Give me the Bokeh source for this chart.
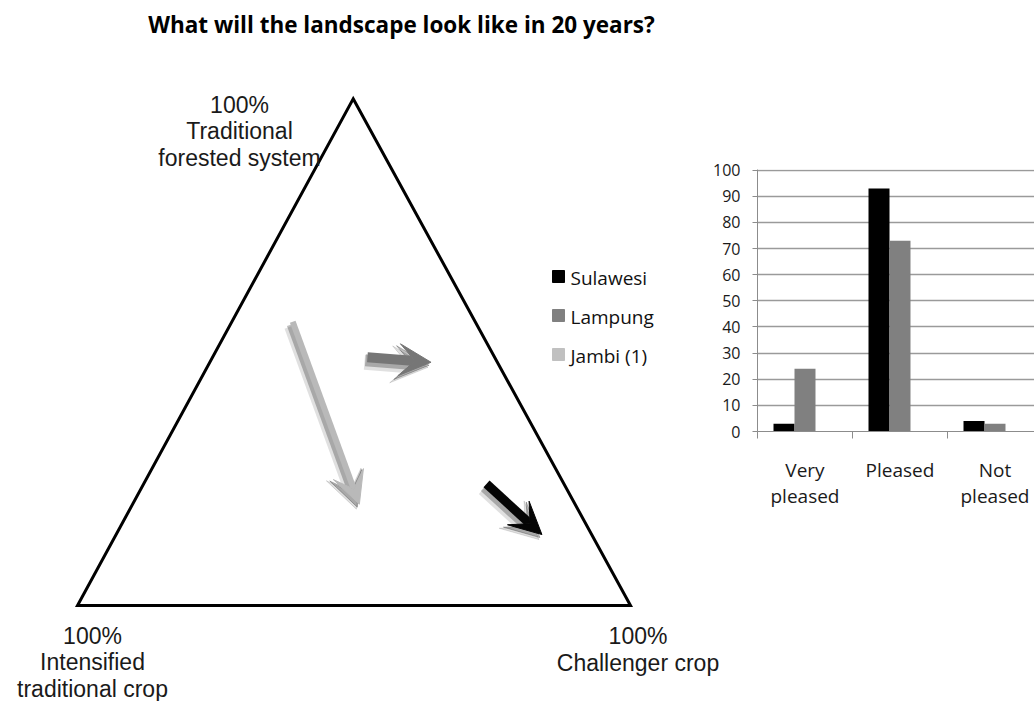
from bokeh.plotting import figure
from bokeh.models import Range1d, FixedTicker, Arrow, VeeHead
from bokeh.layouts import row
from bokeh.core.properties import value
from bokeh.embed import file_html
from bokeh.resources import INLINE

# ---------------- data ----------------
title_text = "What will the landscape look like in 20 years?"
corner_forest = ["100%", "Traditional", "forested system"]
corner_intensified = ["100%", "Intensified", "traditional crop"]
corner_challenger = ["100%", "Challenger crop"]

# landscape composition (%) : forested system / challenger crop (rest = intensified crop)
arrow_series = ["Jambi (1)", "Lampung", "Sulawesi"]
arrow_forest_start = [56, 49, 24]
arrow_challenger_start = [11, 28, 62]
arrow_forest_end = [20, 48, 14]
arrow_challenger_end = [41, 40, 77]
arrow_colors = ["#b9b9b9", "#767676", "#050505"]

legend_names = ["Sulawesi", "Lampung", "Jambi (1)"]
legend_colors = ["#000000", "#808080", "#c0c0c0"]

categories = ["Very\npleased", "Pleased", "Not\npleased"]
sulawesi = [3, 93, 4]
lampung = [24, 73, 3]
y_ticks = list(range(0, 101, 10))

# ---------------- layout constants ----------------
TOP = (352.7, 98.3)
LEFT = (77.0, 605.0)
RIGHT = (630.0, 605.0)


def tern(forest, challenger):
    inten = 100.0 - forest - challenger
    x = (forest * TOP[0] + inten * LEFT[0] + challenger * RIGHT[0]) / 100.0
    y = (forest * TOP[1] + inten * LEFT[1] + challenger * RIGHT[1]) / 100.0
    return x, y


W1, W2, H, OVERLAP = 740, 354, 701, 60

# ---------------- left figure (ternary sketch) ----------------
p1 = figure(width=W1, height=H, x_range=Range1d(0, W1), y_range=Range1d(H, 0),
            output_backend="svg", toolbar_location=None,
            x_axis_location=None, y_axis_location=None, min_border=0)
p1.frame_align = False
p1.grid.visible = False
p1.outline_line_color = None
p1.background_fill_color = "white"

# title
p1.text(x=[401], y=[24], text=[title_text], text_align="center", text_baseline="alphabetic",
        text_font=value("Open Sans"), text_font_style="bold", text_font_size="22.5px",
        text_color="#000000")

# triangle from the three pure compositions
corners = [tern(100, 0), tern(0, 100), tern(0, 0)]
p1.patch([c[0] for c in corners], [c[1] for c in corners], fill_color=None,
         line_color="black", line_width=3, line_join="miter")


def block(lines, cx, y0, step):
    p1.text(x=[cx] * len(lines), y=[y0 + i * step for i in range(len(lines))], text=lines,
            text_align="center", text_baseline="alphabetic",
            text_font=value("Liberation Sans"), text_font_size="23px", text_color="#1a1a1a")


block(corner_forest, 239, 104, 26.5)
block(corner_intensified, 92, 635, 26.5)
block(corner_challenger, 637.5, 635, 27)

# arrows with soft shadow
shaft_w = [6, 10, 9]
head_s = [32, 32, 32]
for i in range(len(arrow_series)):
    xs, ys = tern(arrow_forest_start[i], arrow_challenger_start[i])
    xe, ye = tern(arrow_forest_end[i], arrow_challenger_end[i])
    for dx, dy, alpha, grow in [(-3, 5, 0.12, 5), (-2, 3, 0.25, 2)]:
        p1.add_layout(Arrow(x_start=xs + dx, y_start=ys + dy, x_end=xe + dx, y_end=ye + dy,
                            line_color="black", line_alpha=alpha, line_width=shaft_w[i] + grow,
                            end=VeeHead(size=head_s[i] + grow, fill_color="black",
                                        fill_alpha=alpha, line_color="black",
                                        line_alpha=alpha)))
    p1.add_layout(Arrow(x_start=xs, y_start=ys, x_end=xe, y_end=ye,
                        line_color=arrow_colors[i], line_width=shaft_w[i],
                        end=VeeHead(size=head_s[i], fill_color=arrow_colors[i],
                                    line_color=arrow_colors[i], line_width=1)))

# legend
leg_y = [276 + 39 * i for i in range(len(legend_names))]
p1.scatter(x=[558] * len(legend_names), y=leg_y, marker="square", size=12,
           fill_color=legend_colors, line_color=legend_colors)
p1.text(x=[570] * len(legend_names), y=[v + 1 for v in leg_y], text=legend_names,
        text_baseline="middle", text_font=value("Open Sans"), text_font_size="19px",
        text_color="#111111")

# ---------------- right figure (bar chart) ----------------
left_b, top_b, frame_h = 77, 169, 262
p2 = figure(width=W2, height=H, x_range=Range1d(-0.5, -0.5 + (W2 - left_b) / 95.0),
            y_range=Range1d(0, frame_h / 2.614),
            output_backend="svg", toolbar_location=None,
            min_border_left=left_b, min_border_right=0, min_border_top=top_b,
            min_border_bottom=H - top_b - frame_h)
p2.frame_align = False
p2.margin = (0, 0, 0, -OVERLAP)
p2.outline_line_color = None
p2.background_fill_color = None
p2.border_fill_color = None

idx = list(range(len(categories)))
bw = 0.221
p2.vbar(x=[i - bw for i in idx], top=sulawesi, width=bw, fill_color="#000000", line_color=None)
p2.vbar(x=[i for i in idx], top=lampung, width=bw, fill_color="#808080", line_color=None)

p2.xgrid.visible = False
p2.ygrid.ticker = FixedTicker(ticks=y_ticks)
p2.ygrid.grid_line_color = "#9a9a9a"
p2.ygrid.grid_line_width = 1.5

ya = p2.yaxis[0]
ya.ticker = FixedTicker(ticks=y_ticks)
ya.axis_line_color = "#8c8c8c"
ya.major_tick_line_color = "#8c8c8c"
ya.major_tick_out = 5
ya.major_tick_in = 0
ya.minor_tick_line_color = None
ya.major_label_standoff = 12
ya.major_label_text_font = "Open Sans"
ya.major_label_text_font_size = "16px"
ya.major_label_text_color = "#1a1a1a"

xa = p2.xaxis[0]
xa.ticker = FixedTicker(ticks=idx, minor_ticks=[i - 0.5 for i in idx] + [idx[-1] + 0.5])
xa.major_label_overrides = {i: categories[i] for i in idx}
xa.axis_line_color = "#8c8c8c"
xa.major_tick_line_color = None
xa.major_tick_out = 0
xa.major_tick_in = 0
xa.minor_tick_line_color = "#8c8c8c"
xa.minor_tick_out = 7
xa.minor_tick_in = 0
xa.major_label_standoff = 18
xa.major_label_text_font = "Open Sans"
xa.major_label_text_font_size = "19px"
xa.major_label_text_line_height = 1.0
xa.major_label_text_color = "#1a1a1a"

layout = row(p1, p2)
open("out.html", "w").write(file_html(layout, INLINE))
